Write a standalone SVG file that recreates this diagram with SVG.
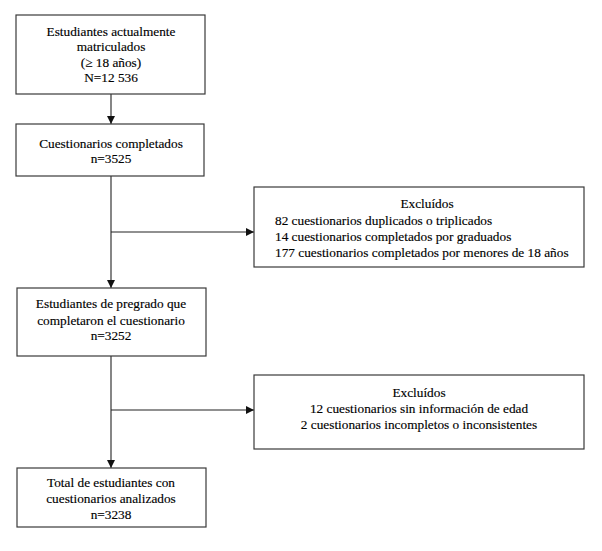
<svg xmlns="http://www.w3.org/2000/svg" width="602" height="551" viewBox="0 0 602 551">
<defs>
<style>
.box{fill:#fff;stroke:#3a3a3a;stroke-width:1.2}
.t{font-family:"Liberation Serif","Times New Roman",serif;font-size:13.3px;fill:#000;stroke:#000;stroke-width:0.15}
.c{text-anchor:middle}
.ln{stroke:#222;stroke-width:1.1;fill:none}
</style>
<marker id="ah" viewBox="0 0 10 10" refX="10" refY="5" markerWidth="8" markerHeight="8" markerUnits="userSpaceOnUse" orient="auto">
<path d="M0,0 L10,5 L0,10 z" fill="#111"/>
</marker>
</defs>
<rect width="602" height="551" fill="#fff"/>
<g id="connectors">
<line class="ln" x1="111" y1="94" x2="111" y2="124" marker-end="url(#ah)"/>
<line class="ln" x1="111" y1="176" x2="111" y2="288" marker-end="url(#ah)"/>
<line class="ln" x1="111" y1="232" x2="254" y2="232" marker-end="url(#ah)"/>
<line class="ln" x1="111" y1="356" x2="111" y2="468" marker-end="url(#ah)"/>
<line class="ln" x1="111" y1="410" x2="254" y2="410" marker-end="url(#ah)"/>
</g>
<g id="n1">
<rect class="box" x="16" y="15" width="189" height="79"/>
<text class="t c" x="111" y="36">Estudiantes actualmente</text>
<text class="t c" x="111" y="51">matriculados</text>
<text class="t c" x="111" y="67">(≥ 18 años)</text>
<text class="t c" x="111" y="82">N=12 536</text>
</g>
<g id="n2">
<rect class="box" x="16" y="124" width="188" height="52"/>
<text class="t c" x="111" y="148">Cuestionarios completados</text>
<text class="t c" x="111" y="163">n=3525</text>
</g>
<g id="x1">
<rect class="box" x="254" y="187" width="330" height="80"/>
<text class="t c" x="427" y="208">Excluídos</text>
<text class="t" x="275" y="225">82 cuestionarios duplicados o triplicados</text>
<text class="t" x="275" y="241">14 cuestionarios completados por graduados</text>
<text class="t" x="275" y="257">177 cuestionarios completados por menores de 18 años</text>
</g>
<g id="n3">
<rect class="box" x="17" y="288" width="189" height="68"/>
<text class="t c" x="111" y="308">Estudiantes de pregrado que</text>
<text class="t c" x="111" y="325">completaron el cuestionario</text>
<text class="t c" x="111" y="340">n=3252</text>
</g>
<g id="x2">
<rect class="box" x="254" y="375" width="330" height="74"/>
<text class="t c" x="419" y="397">Excluídos</text>
<text class="t c" x="419" y="413">12 cuestionarios sin información de edad</text>
<text class="t c" x="419" y="429">2 cuestionarios incompletos o inconsistentes</text>
</g>
<g id="n4">
<rect class="box" x="17" y="468" width="189" height="59"/>
<text class="t c" x="111" y="487">Total de estudiantes con</text>
<text class="t c" x="111" y="503">cuestionarios analizados</text>
<text class="t c" x="111" y="519">n=3238</text>
</g>
</svg>
